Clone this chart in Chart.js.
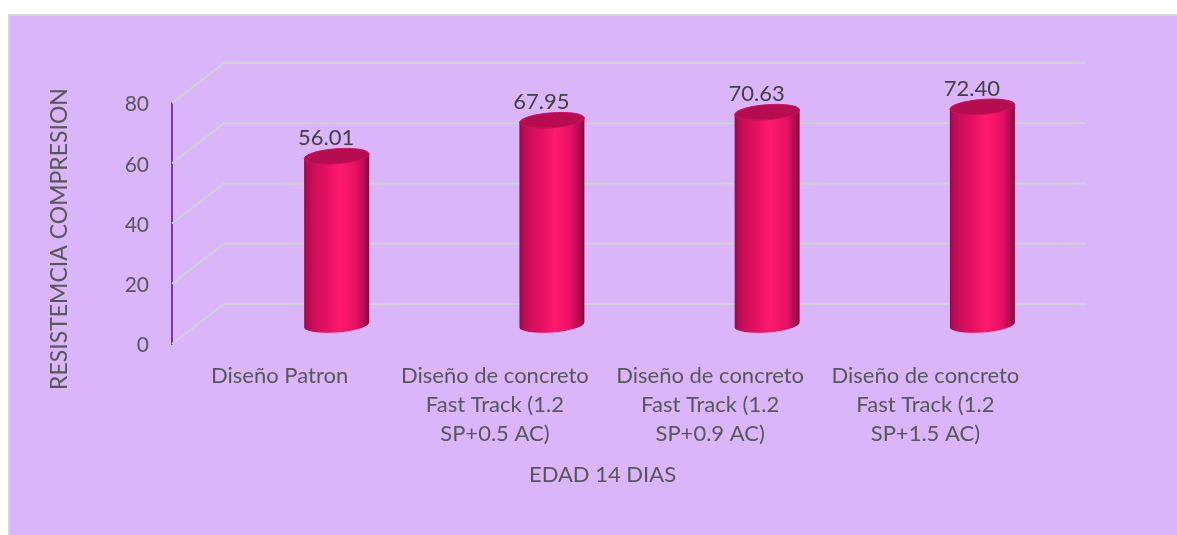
<!DOCTYPE html>
<html><head><meta charset="utf-8">
<style>html,body{margin:0;padding:0;background:#fff}canvas{display:block}</style>
<script src="https://cdn.jsdelivr.net/npm/chart.js@4"></script>
</head><body><canvas id="c" width="1177" height="535"></canvas>
<script>
const categories = [
  ["Diseño Patron"],
  ["Diseño de concreto","Fast Track (1.2","SP+0.5 AC)"],
  ["Diseño de concreto","Fast Track (1.2","SP+0.9 AC)"],
  ["Diseño de concreto","Fast Track (1.2","SP+1.5 AC)"]
];
const resistencia = [56.01, 67.95, 70.63, 72.40];
const yTitle = "RESISTEMCIA COMPRESION";
const xTitle = "EDAD 14 DIAS";
const FONT = "Lato, 'Open Sans', sans-serif";
const TEXT = "#575757", GRID = "#d0d0d6", PANEL = "#dbb5fa";

const panel3d = {
  id: "panel3d",
  beforeDraw(ch) {
    const c = ch.ctx; c.save();
    c.fillStyle = "#d6d6d6"; c.fillRect(8, 14, 1169, 521);
    c.fillStyle = PANEL; c.fillRect(10, 16, 1167, 519);
    c.restore();
  },
  beforeDatasetsDraw(ch) {
    const c = ch.ctx, y = ch.scales.y; c.save();
    c.strokeStyle = GRID; c.lineWidth = 2;
    y.ticks.forEach(t => {
      const py = y.getPixelForValue(t.value);
      c.beginPath();
      c.moveTo(ch.chartArea.left, py);
      c.lineTo(ch.chartArea.left + 52, py - 40);
      c.lineTo(1086, py - 40);
      c.stroke();
    });
    c.restore();
  },
  afterDatasetsDraw(ch) {
    const c = ch.ctx, meta = ch.getDatasetMeta(0);
    meta.data.forEach((el, i) => {
      const cx = el.x + 57, top = el.y - 19, base = el.base - 19;
      const rx = el.width / 2, ry = 7.5, rot = -0.075, dy = rx * Math.sin(rot);
      c.save();
      const g = c.createLinearGradient(cx - rx, 0, cx + rx, 0);
      g.addColorStop(0, "#8c0a45"); g.addColorStop(0.04, "#b00b50");
      g.addColorStop(0.14, "#cc0e58"); g.addColorStop(0.35, "#e61062");
      g.addColorStop(0.55, "#ff1a6e"); g.addColorStop(0.8, "#e61163");
      g.addColorStop(0.94, "#ad0b4f"); g.addColorStop(1, "#800a3e");
      c.fillStyle = g;
      c.beginPath();
      c.moveTo(cx - rx, top - dy);
      c.lineTo(cx + rx, top + dy);
      c.lineTo(cx + rx, base + dy);
      c.ellipse(cx, base, rx, ry, rot, 0, Math.PI);
      c.closePath(); c.fill();
      c.fillStyle = "#b50d4f"; c.strokeStyle = "#d00f5a"; c.lineWidth = 1;
      c.beginPath(); c.ellipse(cx, top, rx, ry, rot, 0, Math.PI * 2); c.fill(); c.stroke();
      c.fillStyle = "#404040"; c.font = "22px " + FONT;
      c.textAlign = "center"; c.textBaseline = "middle";
      c.fillText(resistencia[i].toFixed(2), cx - 10.5, top - 18);
      c.restore();
    });
    c.save();
    c.translate(60, 239); c.rotate(-Math.PI / 2);
    c.fillStyle = TEXT; c.font = "23px " + FONT;
    c.textAlign = "center"; c.textBaseline = "middle";
    c.fillText(yTitle, 0, 0);
    c.restore();
  }
};

new Chart(document.getElementById("c"), {
  type: "bar",
  data: { labels: categories, datasets: [{ data: resistencia, backgroundColor: "rgba(0,0,0,0)",
    barPercentage: 0.302, categoryPercentage: 1 }] },
  plugins: [panel3d],
  options: {
    responsive: false, animation: false,
    layout: { padding: { left: 0, top: 103, right: 144, bottom: 47 } },
    plugins: { legend: { display: false }, tooltip: { enabled: false } },
    scales: {
      y: {
        min: 0, max: 80,
        afterFit(s) { s.width = 172; },
        afterUpdate(s) {
          if (s.__shifted) return;
          s.__shifted = true;
          const orig = s.getLabelItems.bind(s);
          s.getLabelItems = ca => {
            const items = orig(ca);
            if (!items.__done) { items.forEach(it => { it.textOffset += 1.5; }); items.__done = true; }
            return items;
          };
        },
        ticks: { stepSize: 20, color: TEXT, padding: 15, font: { family: FONT, size: 21 } },
        grid: { display: false },
        border: { display: true, color: "#7a35ab", width: 2 }
      },
      x: {
        afterFit(s) { s.height = 144; },
        ticks: { color: TEXT, padding: 9, maxRotation: 0, autoSkip: false,
          font: { family: FONT, size: 22, lineHeight: 1.33 } },
        grid: { display: false },
        border: { display: false },
        title: { display: true, text: xTitle, color: TEXT, font: { family: FONT, size: 22 }, padding: { top: 10, bottom: 0 } }
      }
    }
  }
});
</script></body></html>
